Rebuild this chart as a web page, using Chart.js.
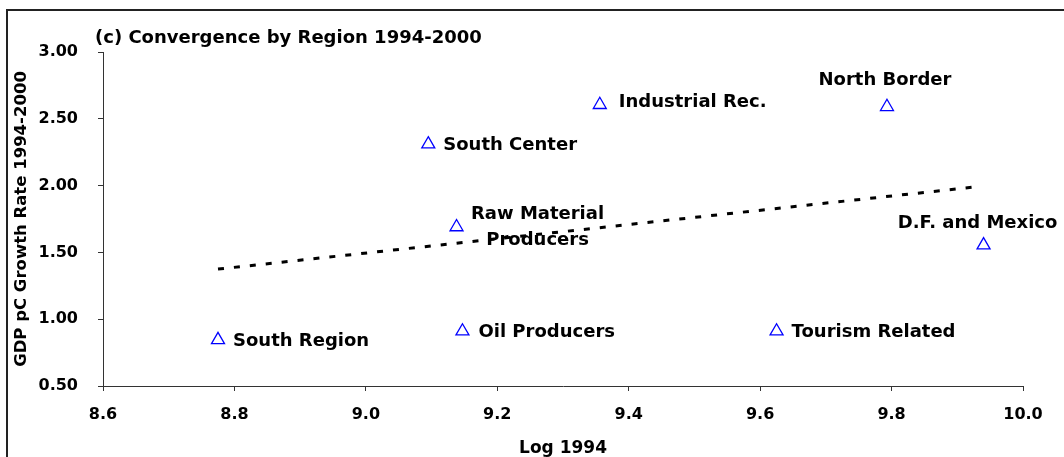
<!DOCTYPE html>
<html>
<head>
<meta charset="utf-8">
<script src="https://cdn.jsdelivr.net/npm/chart.js@4/dist/chart.umd.min.js"></script>
<style>
  html, body { margin: 0; padding: 0; background: #fff; }
  #wrap { width: 1064px; height: 457px; position: relative; }
</style>
</head>
<body>
<div id="wrap"><canvas id="chart"></canvas></div>
<script>
  'use strict';

  var regions = ['South Region', 'Oil Producers', 'Tourism Related', 'Raw Material Producers',
    'South Center', 'Industrial Rec.', 'North Border', 'D.F. and Mexico'];
  var log1994 = [8.775, 9.147, 9.625, 9.138, 9.095, 9.356, 9.793, 9.940];
  var growth = [0.845, 0.91, 0.91, 1.69, 2.31, 2.605, 2.59, 1.555];

  // dotted trend line, end points
  var trendX = [8.775, 9.927];
  var trendY = [1.375, 1.99];

  var xTicks = [8.6, 8.8, 9.0, 9.2, 9.4, 9.6, 9.8, 10.0];
  var yTicks = [0.5, 1.0, 1.5, 2.0, 2.5, 3.0];

  var FONT = "'DejaVu Sans', sans-serif";

  // where each label sits relative to its point: [dx, dy, align]
  var labelPos = [
    [15, 1, 'left'],
    [16, 1, 'left'],
    [15, 1, 'left'],
    [81, 0, 'center'],
    [15, 1, 'left'],
    [19, -2, 'left'],
    [-2, -26, 'center'],
    [-6, -22, 'center']
  ];

  var labelsPlugin = {
    id: 'pointLabels',
    afterDatasetsDraw: function (chart) {
      var ctx = chart.ctx;
      var xs = chart.scales.x, ys = chart.scales.y;
      ctx.save();
      ctx.fillStyle = '#000';
      ctx.font = 'bold 18px ' + FONT;
      ctx.textBaseline = 'middle';
      regions.forEach(function (name, i) {
        var p = labelPos[i];
        var px = xs.getPixelForValue(log1994[i]) + p[0];
        var py = ys.getPixelForValue(growth[i]) + p[1];
        ctx.textAlign = p[2];
        if (name === 'Raw Material Producers') {
          ctx.fillText('Raw Material', px, py - 13);
          ctx.fillText('Producers', px, py + 13);
        } else {
          ctx.fillText(name, px, py);
        }
      });
      ctx.restore();
    },
    afterDraw: function (chart) {
      var ctx = chart.ctx;
      ctx.save();
      // chart title, top left
      ctx.fillStyle = '#000';
      ctx.font = 'bold 18px ' + FONT;
      ctx.textAlign = 'left';
      ctx.textBaseline = 'middle';
      ctx.fillText('(c) Convergence by Region 1994-2000', 95, 38);
      // outer frame (only left and top visible)
      ctx.strokeStyle = '#222';
      ctx.lineWidth = 2;
      ctx.beginPath();
      ctx.moveTo(7, chart.height + 5);
      ctx.lineTo(7, 10);
      ctx.lineTo(chart.width + 5, 10);
      ctx.stroke();
      ctx.restore();
    }
  };

  var points = log1994.map(function (v, i) { return { x: v, y: growth[i] }; });
  var trend = trendX.map(function (v, i) { return { x: v, y: trendY[i] }; });

  new Chart(document.getElementById('chart'), {
    type: 'scatter',
    data: {
      datasets: [
        {
          type: 'line',
          data: trend,
          borderColor: '#000',
          borderWidth: 3,
          borderDash: [6, 10],
          pointRadius: 0,
          fill: false
        },
        {
          data: points,
          pointStyle: 'triangle',
          pointRadius: 7.5,
          pointHoverRadius: 7.5,
          borderColor: '#0000ff',
          borderWidth: 1.3,
          backgroundColor: 'rgba(255,255,255,0)'
        }
      ]
    },
    options: {
      responsive: true,
      maintainAspectRatio: false,
      animation: false,
      events: [],
      layout: { padding: { top: 52, right: 41, bottom: 0, left: 0 } },
      plugins: { legend: { display: false }, tooltip: { enabled: false } },
      scales: {
        x: {
          type: 'linear',
          min: 8.6,
          max: 10.0,
          afterFit: function (s) { s.height = 71; },
          afterBuildTicks: function (s) { s.ticks = xTicks.map(function (v) { return { value: v }; }); },
          border: { color: '#333', width: 1 },
          grid: { drawOnChartArea: false, color: '#333', tickLength: 5 },
          ticks: {
            padding: 14,
            color: '#000',
            font: { family: FONT, size: 16, weight: 'bold' },
            callback: function (v) { return Number(v).toFixed(1); }
          },
          title: {
            display: true,
            text: 'Log 1994',
            color: '#000',
            font: { family: FONT, size: 17, weight: 'bold', lineHeight: 1 },
            padding: 0
          }
        },
        y: {
          min: 0.5,
          max: 3.0,
          afterFit: function (s) { s.width = 103; },
          afterBuildTicks: function (s) { s.ticks = yTicks.map(function (v) { return { value: v }; }); },
          border: { color: '#333', width: 1 },
          grid: { drawOnChartArea: false, color: '#333', tickLength: 5 },
          ticks: {
            padding: 20,
            color: '#000',
            font: { family: FONT, size: 16, weight: 'bold' },
            callback: function (v) { return Number(v).toFixed(2); }
          },
          title: {
            display: true,
            text: 'GDP pC Growth Rate 1994-2000',
            color: '#000',
            font: { family: FONT, size: 16.5, weight: 'bold', lineHeight: 1 },
            padding: { top: 13, bottom: 0 }
          }
        }
      }
    },
    plugins: [labelsPlugin]
  });
</script>
</body>
</html>
